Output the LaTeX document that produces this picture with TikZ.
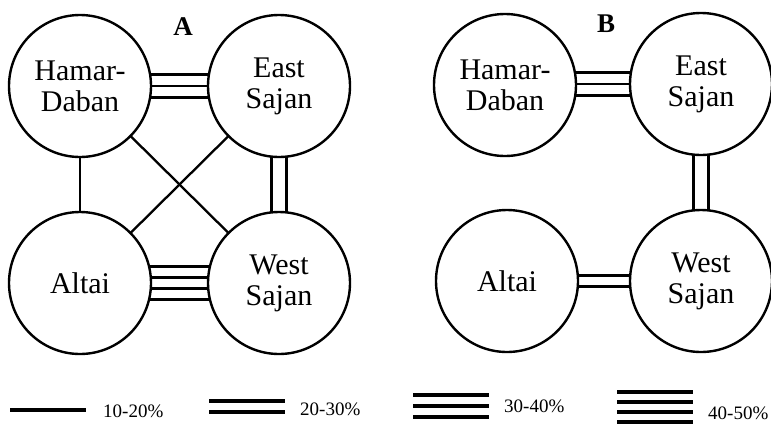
\documentclass[tikz,border=0pt]{standalone}
\usepackage{fontspec}
\setmainfont{Liberation Serif}
\usetikzlibrary{backgrounds}
\begin{document}
\begin{tikzpicture}[x=1pt,y=-1pt,
  region/.style={circle,draw,line width=2.4pt,fill=white,minimum size=142pt,inner sep=0pt,align=center,font=\fontsize{30}{31}\selectfont},
  link/.style={line width=2.3pt},
  keyline/.style={line width=3.2pt},
  keytext/.style={anchor=west,font=\fontsize{19}{22}\selectfont,inner sep=0pt},
  panel/.style={font=\fontsize{27}{29}\selectfont\bfseries}]
\useasboundingbox (0,0) rectangle (771,424);

% Panel A
\node[region] (hdA) at (80,86) {Hamar-\\Daban};
\node[region] (esA) at (279,86) {East\\Sajan};
\node[region] (alA) at (80,283) {Altai};
\node[region] (wsA) at (279,283) {West\\Sajan};
\node[panel] (labA) at (183,27) {A};

% Panel B
\node[region] (hdB) at (505,85) {Hamar-\\Daban};
\node[region] (esB) at (701,84) {East\\Sajan};
\node[region] (alB) at (507,281) {Altai};
\node[region] (wsB) at (701,281) {West\\Sajan};
\node[panel] (labB) at (606,24) {B};

\begin{scope}[on background layer]
  % A connectors
  \foreach \s in {11.5,0,-11.5}
    \draw[link] ([yshift=\s pt]hdA.center) -- ([yshift=\s pt]esA.center);
  \foreach \s in {16.5,5.5,-5.5,-16.5}
    \draw[link] ([yshift=\s pt]alA.center) -- ([yshift=\s pt]wsA.center);
  \foreach \s in {-7.5,7.5}
    \draw[link] ([xshift=\s pt]esA.center) -- ([xshift=\s pt]wsA.center);
  \draw[link] (hdA.center) -- (alA.center);
  \draw[link] (hdA.center) -- (wsA.center);
  \draw[link] (esA.center) -- (alA.center);
  % B connectors
  \foreach \s in {12.5,1,-10.5}
    \draw[link] ([yshift=\s pt]hdB.center) -- ([yshift=\s pt]hdB.center -| esB.center);
  \foreach \s in {-7.5,7.5}
    \draw[link] ([xshift=\s pt]esB.center) -- ([xshift=\s pt]wsB.center);
  \foreach \s in {5.5,-5.5}
    \draw[link] ([yshift=\s pt]alB.center) -- ([yshift=\s pt]wsB.center);
\end{scope}

% Legend
\draw[keyline] (10,410) -- (86,410);
\node[keytext] (k1) at (103,411) {10-20\%};
\draw[keyline] (209,401) -- (285,401);
\draw[keyline] (209,412) -- (285,412);
\node[keytext] (k2) at (300,409) {20-30\%};
\draw[keyline] (413,395) -- (489,395);
\draw[keyline] (413,406) -- (489,406);
\draw[keyline] (413,417) -- (489,417);
\node[keytext] (k3) at (504,406) {30-40\%};
\draw[keyline] (617,392) -- (693,392);
\draw[keyline] (617,402) -- (693,402);
\draw[keyline] (617,412) -- (693,412);
\draw[keyline] (617,422) -- (693,422);
\node[keytext] (k4) at (708,413) {40-50\%};
\end{tikzpicture}
\end{document}
